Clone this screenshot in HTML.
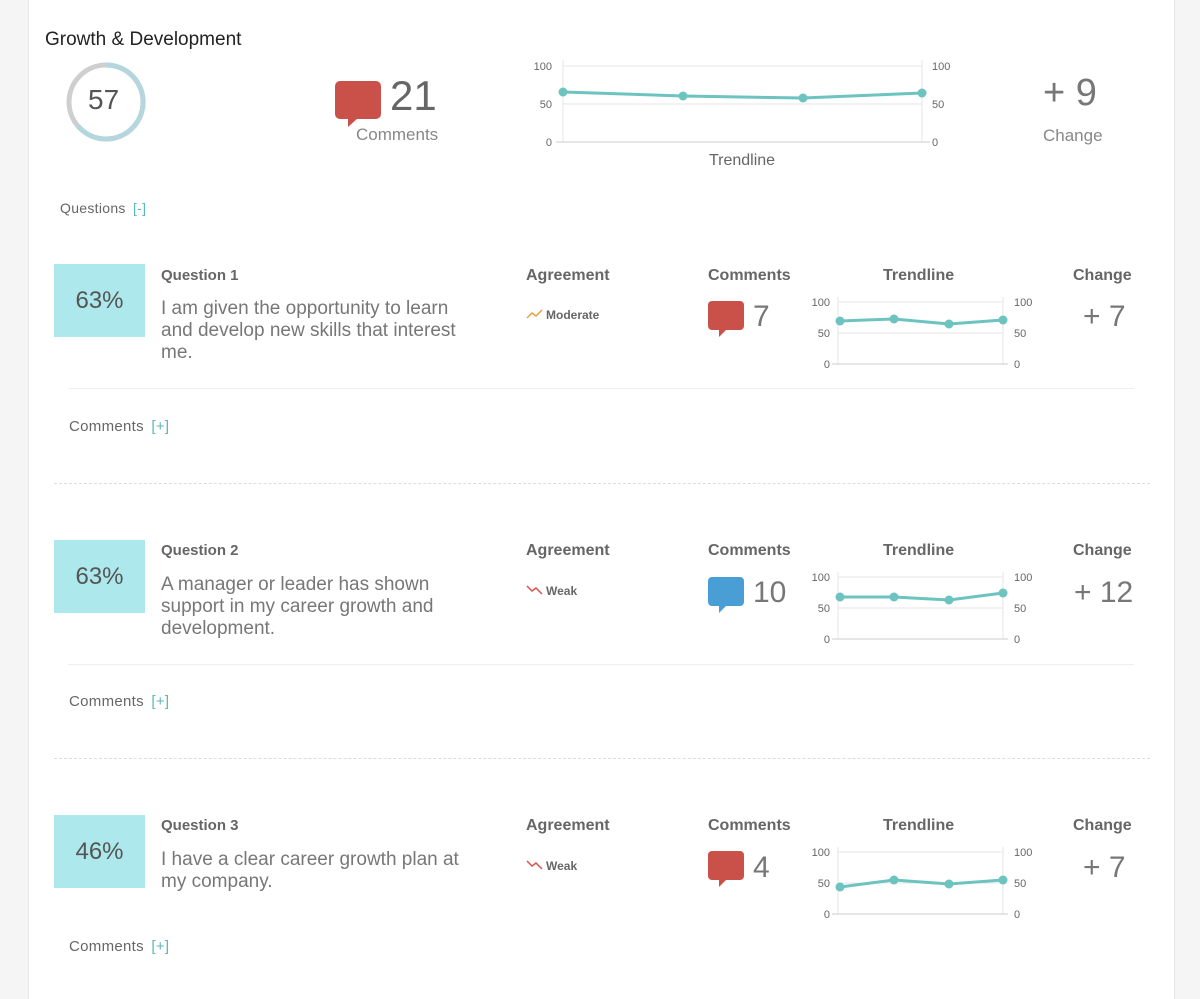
<!DOCTYPE html>
<html><head><meta charset="utf-8"><style>
*{margin:0;padding:0;box-sizing:border-box}
body{width:1200px;height:999px;background:#f5f5f5;font-family:"Liberation Sans",sans-serif;position:relative;overflow:hidden;color:#555}
.card{position:absolute;left:28px;top:0;width:1147px;height:999px;background:#fff;border-left:1px solid #e6e6e6;border-right:1px solid #e6e6e6}
.a{position:absolute;white-space:nowrap}
.box{position:absolute;left:54px;width:91px;height:73px;background:#ade8ec;color:#555;font-size:24px;text-align:center;line-height:73px}
.qt{font-weight:bold;font-size:15px;color:#666}
.qx{font-size:19px;line-height:22px;color:#777}
.hd{font-weight:bold;font-size:16px;color:#666}
.big{font-size:30px;color:#777}
.lnk{font-size:15px;color:#666;letter-spacing:0.3px}
.lnk span{color:#5bb8bd;margin-left:3px}
.sep{position:absolute;left:68px;width:1066px;border-top:1px solid #eee}
.dash{position:absolute;left:54px;width:1096px;border-top:1px dashed #ddd}
</style></head><body>
<div class="card"></div>
<div class="a" style="left:45px;top:29px;font-size:19px;color:#222">Growth &amp; Development</div>
<svg class="a" style="left:60px;top:58px" width="92" height="92"><circle cx="46" cy="44" r="37" fill="none" stroke="#cfcfcf" stroke-width="5"/><path d="M46 7 A37 37 0 1 1 18 68" fill="none" stroke="#b5d6dd" stroke-width="5"/></svg>
<div class="a" style="left:88px;top:84px;font-size:28px;color:#555">57</div>
<svg class="a" style="left:334px;top:80px" width="50" height="48"><rect x="1" y="1" width="46" height="38" rx="5" fill="#c9514a"/><path d="M14 38 L14 47 L24 38Z" fill="#c9514a"/></svg>
<div class="a" style="left:390px;top:72px;font-size:42px;color:#666">21</div>
<div class="a" style="left:356px;top:125px;font-size:17px;color:#888">Comments</div>
<svg class="a" style="left:0;top:0" width="1200" height="999" font-family="Liberation Sans" font-size="11" fill="#666">
<g stroke="#e6e6e6"><line x1="563" y1="66" x2="922" y2="66"/><line x1="563" y1="104" x2="922" y2="104"/><line x1="563" y1="60" x2="563" y2="142"/><line x1="922" y1="60" x2="922" y2="142"/></g>
<line x1="556" y1="142" x2="930" y2="142" stroke="#ccc"/>
<text x="552" y="70" text-anchor="end">100</text><text x="552" y="108" text-anchor="end">50</text><text x="552" y="146" text-anchor="end">0</text>
<text x="932" y="70">100</text><text x="932" y="108">50</text><text x="932" y="146">0</text>
<polyline points="563,92 683,96 803,98 922,93" fill="none" stroke="#6cc3c0" stroke-width="3"/>
<g fill="#6cc3c0"><circle cx="563" cy="92" r="4.5"/><circle cx="683" cy="96" r="4.5"/><circle cx="803" cy="98" r="4.5"/><circle cx="922" cy="93" r="4.5"/></g>
<text x="742" y="165" text-anchor="middle" font-size="16" fill="#666">Trendline</text>
<g id="c1">
<g stroke="#e6e6e6"><line x1="838" y1="302" x2="1003" y2="302"/><line x1="838" y1="333" x2="1003" y2="333"/><line x1="838" y1="297" x2="838" y2="364"/><line x1="1003" y1="297" x2="1003" y2="364"/></g>
<line x1="832" y1="364" x2="1008" y2="364" stroke="#ccc"/>
<text x="830" y="306" text-anchor="end">100</text><text x="830" y="337" text-anchor="end">50</text><text x="830" y="368" text-anchor="end">0</text>
<text x="1014" y="306">100</text><text x="1014" y="337">50</text><text x="1014" y="368">0</text>
</g>
<use href="#c1" y="275"/><use href="#c1" y="550"/>
<g fill="none" stroke="#6cc3c0" stroke-width="3">
<polyline points="840,321 894,319 949,324 1003,320"/>
<polyline points="840,597 894,597 949,600 1003,593"/>
<polyline points="840,887 894,880 949,884 1003,880"/></g>
<g fill="#6cc3c0">
<circle cx="840" cy="321" r="4.5"/><circle cx="894" cy="319" r="4.5"/><circle cx="949" cy="324" r="4.5"/><circle cx="1003" cy="320" r="4.5"/>
<circle cx="840" cy="597" r="4.5"/><circle cx="894" cy="597" r="4.5"/><circle cx="949" cy="600" r="4.5"/><circle cx="1003" cy="593" r="4.5"/>
<circle cx="840" cy="887" r="4.5"/><circle cx="894" cy="880" r="4.5"/><circle cx="949" cy="884" r="4.5"/><circle cx="1003" cy="880" r="4.5"/></g>
<polyline points="527,318 532,313 536,316 542,310" fill="none" stroke="#f0a040" stroke-width="1.5"/>
<polyline points="527,586 532,591 536,588 542,594" fill="none" stroke="#d9534f" stroke-width="1.5"/>
<polyline points="527,861 532,866 536,863 542,869" fill="none" stroke="#d9534f" stroke-width="1.5"/>
<g fill="#c9514a"><rect x="708" y="301" width="36" height="29" rx="4"/><path d="M719 329 L719 337 L727 329Z"/>
<rect x="708" y="851" width="36" height="29" rx="4"/><path d="M719 879 L719 887 L727 879Z"/></g>
<g fill="#4a9ed6"><rect x="708" y="577" width="36" height="29" rx="4"/><path d="M719 605 L719 613 L727 605Z"/></g>
</svg>
<div class="a" style="left:1043px;top:72px;font-size:38px;color:#777">+ 9</div>
<div class="a" style="left:1043px;top:126px;font-size:17px;color:#888">Change</div>
<div class="a lnk" style="left:60px;top:200px;font-size:14px">Questions <span>[-]</span></div>

<div class="box" style="top:264px">63%</div>
<div class="a qt" style="left:161px;top:267px">Question 1</div>
<div class="a qx" style="left:161px;top:298px">I am given the opportunity to learn<br>and develop new skills that interest<br>me.</div>
<div class="a" style="left:546px;top:308px;font-size:12px;font-weight:bold;color:#666">Moderate</div>
<div class="a big" style="left:753px;top:300px">7</div>
<div class="a big" style="left:1083px;top:300px">+ 7</div>
<div class="sep" style="top:388px"></div>
<div class="a lnk" style="left:69px;top:418px">Comments <span>[+]</span></div>
<div class="dash" style="top:483px"></div>

<div class="box" style="top:540px">63%</div>
<div class="a qt" style="left:161px;top:542px">Question 2</div>
<div class="a qx" style="left:161px;top:574px">A manager or leader has shown<br>support in my career growth and<br>development.</div>
<div class="a" style="left:546px;top:584px;font-size:12px;font-weight:bold;color:#666">Weak</div>
<div class="a big" style="left:753px;top:576px">10</div>
<div class="a big" style="left:1074px;top:576px">+ 12</div>
<div class="sep" style="top:664px"></div>
<div class="a lnk" style="left:69px;top:693px">Comments <span>[+]</span></div>
<div class="dash" style="top:758px"></div>

<div class="box" style="top:815px">46%</div>
<div class="a qt" style="left:161px;top:817px">Question 3</div>
<div class="a qx" style="left:161px;top:849px">I have a clear career growth plan at<br>my company.</div>
<div class="a" style="left:546px;top:859px;font-size:12px;font-weight:bold;color:#666">Weak</div>
<div class="a big" style="left:753px;top:851px">4</div>
<div class="a big" style="left:1083px;top:851px">+ 7</div>
<div class="a lnk" style="left:69px;top:938px">Comments <span>[+]</span></div>

<div class="a hd" style="left:526px;top:267px">Agreement</div><div class="a hd" style="left:708px;top:267px">Comments</div><div class="a hd" style="left:883px;top:267px">Trendline</div><div class="a hd" style="left:1073px;top:267px">Change</div>
<div class="a hd" style="left:526px;top:542px">Agreement</div><div class="a hd" style="left:708px;top:542px">Comments</div><div class="a hd" style="left:883px;top:542px">Trendline</div><div class="a hd" style="left:1073px;top:542px">Change</div>
<div class="a hd" style="left:526px;top:817px">Agreement</div><div class="a hd" style="left:708px;top:817px">Comments</div><div class="a hd" style="left:883px;top:817px">Trendline</div><div class="a hd" style="left:1073px;top:817px">Change</div>
</body></html>
